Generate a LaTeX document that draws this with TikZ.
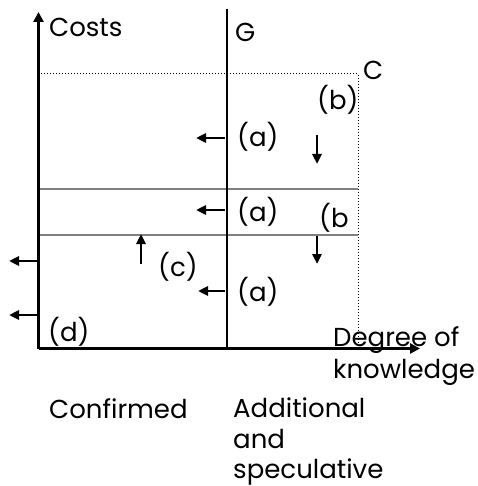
\documentclass[tikz,border=0pt]{standalone}
\usepackage{fontspec}
\setmainfont{Poppins}
\usetikzlibrary{arrows.meta}
\begin{document}
\begin{tikzpicture}[x=1pt,y=-1pt,
  lbl/.style={font=\fontsize{26}{30}\selectfont, inner sep=0pt, anchor=base west},
  axis/.style={line width=3.3pt, -{Triangle[length=10pt,width=10pt]}},
  movearrow/.style={line width=2.5pt, -{Triangle[length=10pt,width=9pt]}},
  band/.style={line width=1.4pt, gray},
  dots/.style={line width=1pt, dotted}]
\useasboundingbox (0,0) rectangle (477,486);
% coordinates
\coordinate (O) at (38.5,348.5);
\coordinate (Ytop) at (38.5,12);
\coordinate (Xend) at (420,348.5);
\coordinate (Gtop) at (227,9);
\coordinate (Gbot) at (227,348.5);
\coordinate (Tl) at (38,74);
\coordinate (Tr) at (358,74);
\coordinate (Br) at (358,348);
\coordinate (B1l) at (38,189);
\coordinate (B1r) at (358,189);
\coordinate (B2l) at (38,235);
\coordinate (B2r) at (358,235);
% dotted boundary C
\draw[dots] (Tl) -- (Tr) -- (Br);
% bands
\draw[band] (B1l) -- (B1r);
\draw[band] (B2l) -- (B2r);
% G line
\draw[line width=2.9pt] (Gtop) -- (Gbot);
% axes
\draw[axis] (O) -- (Ytop);
\draw[axis] (O) -- (Xend);
% labels
\node[lbl] (costs) at (49,37) {Costs};
\node[lbl] (g) at (235,42) {G};
\node[lbl] (c) at (363,80) {C};
\node[lbl] (b1) at (317,110) {(b)};
\node[lbl] (a1) at (237,147) {(a)};
\node[lbl] (a2) at (237,221) {(a)};
\node[lbl] (b2) at (319,227) {(b};
\node[lbl] (cc) at (158,276) {(c)};
\node[lbl] (a3) at (237,301) {(a)};
\node[lbl] (d) at (48,341) {(d)};
\node[lbl] (deg) at (333,346) {Degree of};
\node[lbl] (know) at (333,378) {knowledge};
\node[lbl] (conf) at (49,418) {Confirmed};
\node[lbl] (add) at (233,417) {Additional};
\node[lbl] (and) at (233,448) {and};
\node[lbl] (spec) at (233,478) {speculative};
% movement arrows
\coordinate (s1a) at (225,138); \coordinate (s1b) at (196,138);
\coordinate (s2a) at (225,210); \coordinate (s2b) at (196,210);
\coordinate (s3a) at (225,291); \coordinate (s3b) at (198,291);
\coordinate (d1a) at (317,135); \coordinate (d1b) at (317,164);
\coordinate (d2a) at (317,236); \coordinate (d2b) at (317,264);
\coordinate (u1a) at (141,264); \coordinate (u1b) at (141,234);
\coordinate (l1a) at (37,261); \coordinate (l1b) at (9,261);
\coordinate (l2a) at (37,315); \coordinate (l2b) at (9,315);
\draw[movearrow] (s1a) -- (s1b);
\draw[movearrow] (s2a) -- (s2b);
\draw[movearrow] (s3a) -- (s3b);
\draw[movearrow] (d1a) -- (d1b);
\draw[movearrow] (d2a) -- (d2b);
\draw[movearrow] (u1a) -- (u1b);
\draw[movearrow] (l1a) -- (l1b);
\draw[movearrow] (l2a) -- (l2b);
\end{tikzpicture}
\end{document}
